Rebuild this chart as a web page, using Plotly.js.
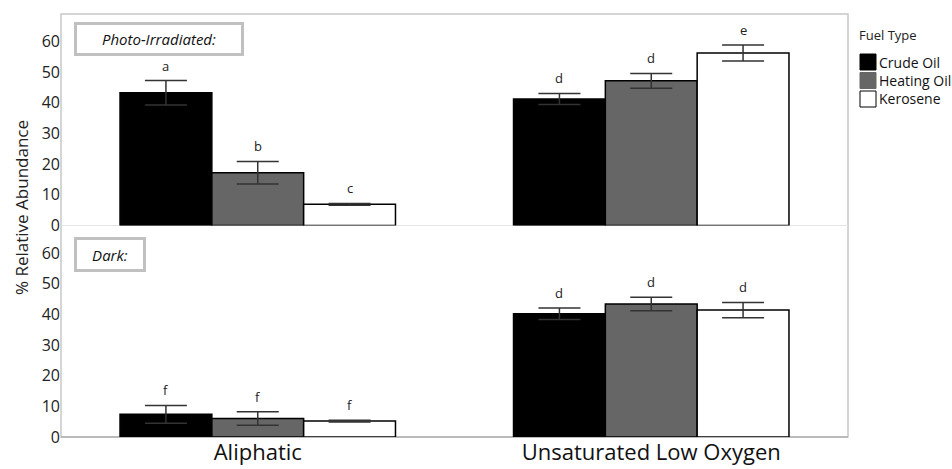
<!DOCTYPE html>
<html><head><meta charset="utf-8">
<script src="https://cdn.plot.ly/plotly-3.0.1.min.js"></script>
<style>html,body{margin:0;padding:0;background:#fff}#chart{width:952px;height:469px}</style>
</head><body><div id="chart"></div>
<script>
const categories = ["Aliphatic", "Unsaturated Low Oxygen"];
const fuels = ["Crude Oil", "Heating Oil", "Kerosene"];

// Photo-Irradiated panel
const lightCrude = [43.3, 41.3];
const lightCrudeErr = [4.0, 1.8];
const lightHeating = [17.2, 47.2];
const lightHeatingErr = [3.7, 2.4];
const lightKerosene = [6.9, 56.3];
const lightKeroseneErr = [0.3, 2.6];
const lightLetters = [["a", "d"], ["b", "d"], ["c", "e"]];

// Dark panel
const darkCrude = [7.4, 40.2];
const darkCrudeErr = [2.9, 1.9];
const darkHeating = [6.0, 43.4];
const darkHeatingErr = [2.2, 2.2];
const darkKerosene = [5.2, 41.4];
const darkKeroseneErr = [0.3, 2.5];
const darkLetters = [["f", "d"], ["f", "d"], ["f", "d"]];

const colors = ["#000000", "#666666", "#ffffff"];
const font = "Open Sans, Noto Sans, sans-serif";

const lightVals = [lightCrude, lightHeating, lightKerosene];
const lightErrs = [lightCrudeErr, lightHeatingErr, lightKeroseneErr];
const darkVals = [darkCrude, darkHeating, darkKerosene];
const darkErrs = [darkCrudeErr, darkHeatingErr, darkKeroseneErr];

const traces = [];
function addPanel(vals, errs, yaxis) {
  for (let i = 0; i < 3; i++) {
    traces.push({
      type: "bar", x: categories, y: vals[i], name: fuels[i],
      xaxis: "x", yaxis: yaxis, legendgroup: fuels[i], showlegend: false,
      marker: {color: colors[i], line: {color: "#000", width: 1.5}},
      error_y: {type: "data", array: errs[i], visible: true, color: "#333", thickness: 1.5, width: 21}
    });
  }
}
addPanel(lightVals, lightErrs, "y2");
addPanel(darkVals, darkErrs, "y");

// plot area in pixels (for paper-coordinate conversion of decorations)
const L = 61, R = 848, T = 14, B = 437;
const px = x => (x - L) / (R - L);
const py = y => (B - y) / (B - T);

const groupW = 0.7, barW = groupW / 3;
const annotations = [];
function addLetters(vals, errs, letters, yref) {
  for (let i = 0; i < 3; i++) {
    for (let c = 0; c < categories.length; c++) {
      annotations.push({
        x: c + (i - 1) * barW, xref: "x", y: vals[i][c] + errs[i][c], yref: yref,
        text: letters[i][c], showarrow: false, yanchor: "bottom", yshift: 4,
        font: {family: font, size: 13, color: "#222"}
      });
    }
  }
}
addLetters(lightVals, lightErrs, lightLetters, "y2");
addLetters(darkVals, darkErrs, darkLetters, "y");

annotations.push({
  xref: "paper", yref: "paper", x: px(74), y: py(22), xanchor: "left", yanchor: "top",
  text: "<i>Photo-Irradiated:</i>", showarrow: false, width: 164, height: 28,
  bordercolor: "#c0c0c0", borderwidth: 3, borderpad: 0, bgcolor: "#fff",
  font: {family: font, size: 15, color: "#111"}
});
annotations.push({
  xref: "paper", yref: "paper", x: px(74), y: py(237), xanchor: "left", yanchor: "top",
  text: "<i>Dark:</i>", showarrow: false, width: 66, height: 29,
  bordercolor: "#c0c0c0", borderwidth: 3, borderpad: 0, bgcolor: "#fff",
  font: {family: font, size: 15, color: "#111"}
});
annotations.push({
  xref: "paper", yref: "paper", x: px(21), y: py(208), xanchor: "center", yanchor: "middle",
  text: "% Relative Abundance", textangle: -90, showarrow: false,
  font: {family: font, size: 17, color: "#222"}
});

// Legend (drawn as shapes + text)
annotations.push({
  xref: "paper", yref: "paper", x: px(857), y: py(35), xanchor: "left", yanchor: "middle",
  text: "Fuel Type", showarrow: false, font: {family: font, size: 13, color: "#222"}
});
const shapes = [
  {type: "rect", xref: "paper", yref: "paper", x0: 0, x1: 1, y0: 0, y1: 1,
   line: {color: "#c8c8c8", width: 1.5}, layer: "below"},
  {type: "line", xref: "paper", yref: "paper", x0: 0, x1: 1, y0: 0.5, y1: 0.5,
   line: {color: "#e4e4e4", width: 1}, layer: "below"},
  {type: "line", xref: "paper", yref: "paper", x0: 0, x1: 1, y0: 0, y1: 0,
   line: {color: "#b0b0b0", width: 1.5}, layer: "below"}
];
const legendTop = [54, 72.5, 91];
fuels.forEach((f, i) => {
  shapes.push({type: "rect", xref: "paper", yref: "paper",
    x0: px(860), x1: px(876), y0: py(legendTop[i] + 16), y1: py(legendTop[i]),
    fillcolor: colors[i], line: {color: i === 1 ? "#666" : "#000", width: 1}});
  annotations.push({
    xref: "paper", yref: "paper", x: px(877), y: py(legendTop[i] + 8), xanchor: "left", yanchor: "middle",
    text: f, showarrow: false, font: {family: font, size: 14, color: "#111"}
  });
});

const yCommon = {
  range: [0, 69], tickvals: [0, 10, 20, 30, 40, 50, 60], showgrid: false, zeroline: false,
  showline: false, ticks: "", tickfont: {family: font, size: 16, color: "#222"}, fixedrange: true
};

const layout = {
  width: 952, height: 469,
  margin: {l: L, r: 952 - R, t: T, b: 469 - B, autoexpand: false},
  paper_bgcolor: "#fff", plot_bgcolor: "#fff",
  barmode: "group", bargap: 0.3, bargroupgap: 0,
  xaxis: {type: "category", showgrid: false, zeroline: false, showline: false, ticks: "",
          tickfont: {family: font, size: 22, color: "#111"}, anchor: "y", fixedrange: true},
  yaxis: Object.assign({domain: [0, 0.5], anchor: "x"}, yCommon),
  yaxis2: Object.assign({domain: [0.5, 1], anchor: "x"}, yCommon),
  showlegend: false,
  annotations: annotations,
  shapes: shapes
};

Plotly.newPlot("chart", traces, layout, {displayModeBar: false, staticPlot: true});
</script></body></html>
